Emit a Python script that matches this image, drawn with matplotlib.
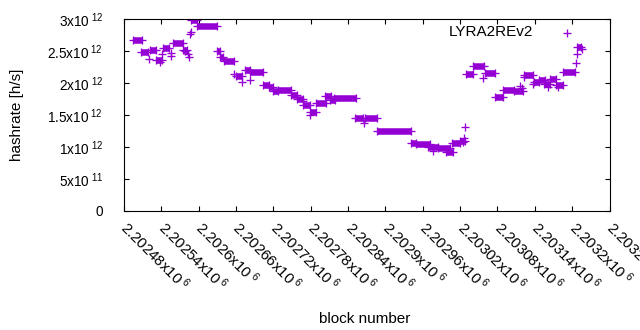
import matplotlib
matplotlib.use("Agg")
import matplotlib.pyplot as plt
import numpy as np

plt.rcParams['font.family'] = ['Liberation Sans', 'DejaVu Sans']
plt.rcParams['mathtext.fontset'] = 'custom'
plt.rcParams['mathtext.rm'] = 'Liberation Sans'

# dense runs of blocks with (nearly) constant hashrate: start block, end block, hashrate [1e12 h/s]
seg_start = [2202495, 2202508, 2202522, 2202531, 2202542, 2202559, 2202574, 2202588, 2202598, 2202629,
             2202635, 2202641, 2202660, 2202674, 2202682, 2202703, 2202713, 2202720, 2202728, 2202748,
             2202758, 2202767, 2202779, 2202788, 2202803, 2202811, 2202817, 2202851, 2202867, 2202887,
             2202941, 2202949, 2202969, 2202985, 2202997, 2203007, 2203020, 2203030, 2203040, 2203060,
             2203076, 2203089, 2203106, 2203123, 2203138, 2203146, 2203155, 2203165, 2203174, 2203186,
             2203207]
seg_end = [2202509, 2202519, 2202531, 2202541, 2202553, 2202574, 2202581, 2202598, 2202629, 2202635,
           2202639, 2202657, 2202669, 2202682, 2202703, 2202713, 2202719, 2202727, 2202748, 2202758,
           2202767, 2202779, 2202788, 2202805, 2202812, 2202819, 2202853, 2202864, 2202886, 2202941,
           2202949, 2202971, 2202985, 2203004, 2203008, 2203020, 2203028, 2203040, 2203059, 2203076,
           2203089, 2203106, 2203121, 2203137, 2203147, 2203157, 2203165, 2203174, 2203186, 2203205,
           2203215]
seg_value = [2.67, 2.48, 2.51, 2.36, 2.55, 2.63, 2.52, 2.99, 2.89, 2.50,
             2.41, 2.34, 2.11, 2.21, 2.17, 1.97, 1.93, 1.87, 1.89, 1.81,
             1.75, 1.65, 1.55, 1.68, 1.80, 1.73, 1.76, 1.45, 1.46, 1.245,
             1.06, 1.04, 1.00, 0.98, 0.92, 1.065, 1.10, 2.14, 2.27, 2.16,
             1.78, 1.89, 1.88, 2.13, 2.01, 2.04, 1.98, 2.06, 1.97, 2.17,
             2.57]

# isolated blocks
pt_block = [2202520, 2202538, 2202541, 2202556, 2202556, 2202578, 2202583, 2202584, 2202586, 2202587,
            2202657, 2202670, 2202682, 2202767, 2202779, 2202866, 2202976, 2203025, 2203026, 2203028,
            2203057, 2203116, 2203120, 2203123, 2203137, 2203161, 2203178, 2203206, 2203208, 2203216]
pt_value = [2.38, 2.33, 2.46, 2.47, 2.42, 2.50, 2.45, 2.41, 2.77, 2.80,
            2.14, 2.02, 2.05, 1.72, 1.50, 1.37, 0.93, 1.08, 1.14, 1.32,
            2.08, 1.95, 1.92, 2.10, 1.98, 1.94, 1.94, 2.32, 2.45, 2.53]

x_ticks = [2202480 + 60 * i for i in range(14)]
y_ticks = [0, 0.5e12, 1e12, 1.5e12, 2e12, 2.5e12, 3e12]
y_ticklabels = ['0', r'$\mathregular{5x10^{\;11}}$', r'$\mathregular{1x10^{\;12}}$',
                r'$\mathregular{1.5x10^{\;12}}$', r'$\mathregular{2x10^{\;12}}$',
                r'$\mathregular{2.5x10^{\;12}}$', r'$\mathregular{3x10^{\;12}}$']

color = '#9400d3'
scale = 1e12
tick_fs = 9.8
xtick_fs = 10.8
label_fs = 11

fig = plt.figure(figsize=(6.4, 3.3), dpi=100)
ax = fig.add_axes([124 / 640, (330 - 211) / 330, (609.5 - 124) / 640, 192 / 330])

sv = np.array(seg_value) * scale
ax.hlines(sv, seg_start, seg_end, colors=color, linewidth=4.7, capstyle='butt')
ax.plot(seg_start, sv, ls='none', marker='+', ms=5.2, mew=0.95, color=color)
ax.plot(seg_end, sv, ls='none', marker='+', ms=5.2, mew=0.95, color=color)
ax.plot(pt_block, np.array(pt_value) * scale, ls='none', marker='+', ms=5.2, mew=0.95, color=color)

ax.set_xlim(2202480, 2203260)
ax.set_ylim(0, 3e12)

ax.set_xticks(x_ticks)
xl = []
for t in x_ticks:
    s = ('%.6f' % (t / 1e6)).rstrip('0').rstrip('.')
    xl.append(r'$\mathregular{%sx10^{\;6}}$' % s)
ax.set_xticklabels(xl, rotation=-45, ha='left', va='center', rotation_mode='anchor', fontsize=xtick_fs)
ax.set_yticks(y_ticks)
ax.set_yticklabels(y_ticklabels, fontsize=tick_fs)

ax.tick_params(axis='both', direction='in', length=3.6, width=0.8, top=True, right=True, color='black')
ax.tick_params(axis='x', pad=10)
ax.tick_params(axis='y', pad=15)
for sp in ax.spines.values():
    sp.set_linewidth(0.8)

ax.set_ylabel('hashrate [h/s]', fontsize=label_fs)
ax.yaxis.set_label_coords(-0.206, 0.5)
ax.set_xlabel('block number', fontsize=label_fs)
ax.xaxis.set_label_coords(0.496, -0.525)

# key
ax.text(0.8424, 0.93, 'LYRA2REv2', transform=ax.transAxes, ha='right', va='center', fontsize=label_fs)
ax.plot([0.9125], [0.929], transform=ax.transAxes, ls='none', marker='+', ms=5.2, mew=0.95,
        color=color, clip_on=False)

fig.savefig('out.png', dpi=100)
